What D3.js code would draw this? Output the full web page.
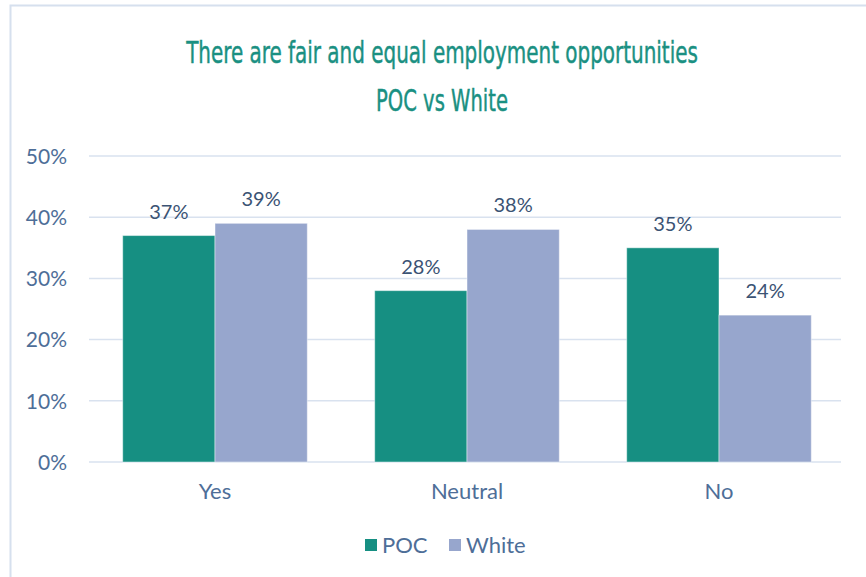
<!DOCTYPE html>
<html>
<head>
<meta charset="utf-8">
<script src="https://cdn.jsdelivr.net/npm/d3@7"></script>
<style>
  html, body { margin: 0; padding: 0; background: #ffffff; }
  svg { display: block; font-family: Lato, "Open Sans", sans-serif; }
</style>
</head>
<body>
<svg id="chart" width="866" height="577"></svg>
<script>
// Chart data
const categories = ["Yes", "Neutral", "No"];
const seriesNames = ["POC", "White"];
const pocValues = [0.37, 0.28, 0.35];
const whiteValues = [0.39, 0.38, 0.24];
const yTicks = [0, 0.1, 0.2, 0.3, 0.4, 0.5];
const titleLines = ["There are fair and equal employment opportunities", "POC vs White"];

const colors = { POC: "#168f82", White: "#97a6cd" };

const svg = d3.select("#chart");
const W = 866, H = 577;
const plot = { left: 89, right: 841, top: 156, bottom: 462 };

// outer frame
svg.append("path")
  .attr("d", `M10.5,${H} L10.5,5.5 L${W},5.5`)
  .attr("fill", "none")
  .attr("stroke", "#d6e0ee")
  .attr("stroke-width", 2);

// title: condensed face, each line scaled horizontally to its target width
const titleSpecs = [
  { text: titleLines[0], y: 63, width: 512 },
  { text: titleLines[1], y: 111, width: 132 }
];
const title = svg.append("g");
titleSpecs.forEach(spec => {
  const g = title.append("g").attr("transform", `translate(442,${spec.y})`);
  const t = g.append("text")
    .attr("text-anchor", "middle")
    .attr("font-family", "'Liberation Sans Narrow', 'DejaVu Sans Condensed', Lato, sans-serif")
    .attr("font-size", 31)
    .attr("fill", "#1a9082")
    .attr("stroke", "#1a9082").attr("stroke-width", 0.45)
    .text(spec.text);
  const w = t.node().getComputedTextLength();
  if (w > 0) t.attr("transform", `scale(${spec.width / w},1)`);
});

// scales
const x0 = d3.scaleBand().domain(categories)
  .range([plot.left, plot.left + 756])
  .paddingInner(0.2675).paddingOuter(0.13375);
const x1 = d3.scaleBand().domain(seriesNames).range([0, x0.bandwidth()]);
const y = d3.scaleLinear().domain([0, 0.5]).range([plot.bottom, plot.top]);

// gridlines
svg.append("g").selectAll("line").data(yTicks).join("line")
  .attr("x1", plot.left).attr("x2", plot.right)
  .attr("y1", d => y(d)).attr("y2", d => y(d))
  .attr("stroke", "#d9e2ef").attr("stroke-width", 1.5);

// y axis labels
const yAxis = d3.axisLeft(y).tickValues(yTicks)
  .tickFormat(d3.format(".0%")).tickSize(0).tickPadding(22);
const yg = svg.append("g").attr("transform", `translate(${plot.left},0)`).call(yAxis);
yg.select(".domain").remove();
yg.selectAll("text").attr("font-size", 21).attr("fill", "#4e6e98")
  .attr("font-family", "Lato, sans-serif").attr("dy", "0.35em");

// x axis labels
const xAxis = d3.axisBottom(x0).tickSize(0).tickPadding(21);
const xg = svg.append("g").attr("transform", `translate(0,${plot.bottom})`).call(xAxis);
xg.select(".domain").remove();
xg.selectAll("text").attr("font-size", 22).attr("fill", "#4e6e98")
  .attr("font-family", "Lato, sans-serif");

// bars
const rows = categories.map((c, i) => ({
  category: c,
  values: [
    { series: "POC", value: pocValues[i] },
    { series: "White", value: whiteValues[i] }
  ]
}));

const groups = svg.append("g").selectAll("g").data(rows).join("g")
  .attr("transform", d => `translate(${x0(d.category)},0)`);

groups.selectAll("rect").data(d => d.values).join("rect")
  .attr("x", d => x1(d.series))
  .attr("y", d => y(d.value))
  .attr("width", x1.bandwidth())
  .attr("height", d => y(0) - y(d.value))
  .attr("fill", d => colors[d.series])
  .attr("stroke", "#ffffff").attr("stroke-opacity", 0.45).attr("stroke-width", 1);

groups.selectAll("text.value").data(d => d.values).join("text")
  .attr("class", "value")
  .attr("x", d => x1(d.series) + x1.bandwidth() / 2)
  .attr("y", d => y(d.value) - 17)
  .attr("text-anchor", "middle")
  .attr("font-size", 20)
  .attr("fill", "#3b5374")
  .text(d => d3.format(".0%")(d.value));

// legend
const legendItems = [
  { name: "POC", x: 365 },
  { name: "White", x: 449 }
];
const legend = svg.append("g");
legend.selectAll("rect").data(legendItems).join("rect")
  .attr("x", d => d.x).attr("y", 539)
  .attr("width", 12).attr("height", 12)
  .attr("fill", d => colors[d.name]);
legend.selectAll("text").data(legendItems).join("text")
  .attr("x", d => d.x + 17).attr("y", 553)
  .attr("font-size", 22).attr("fill", "#4e6e98")
  .text(d => d.name);
</script>
</body>
</html>
